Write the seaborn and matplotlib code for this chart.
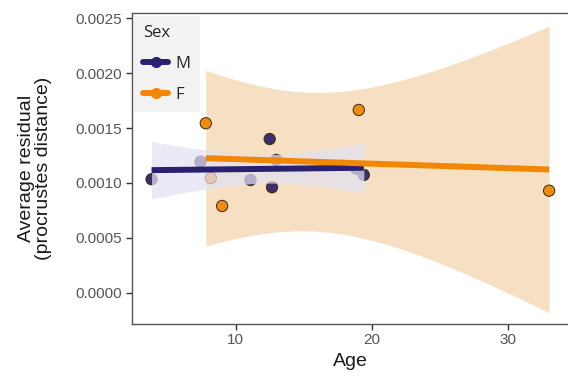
import numpy as np
import pandas as pd
import matplotlib
matplotlib.use("Agg")
import matplotlib.pyplot as plt
import seaborn as sns
from matplotlib.lines import Line2D

# values
male_age = [3.82, 7.41, 11.08, 12.49, 12.66, 12.98, 18.85, 19.40]
male_resid = [0.001034, 0.001194, 0.001027, 0.001400, 0.000961, 0.001210, 0.001130, 0.001073]
female_age = [7.80, 8.17, 9.00, 19.03, 33.00]
female_resid = [0.001543, 0.001045, 0.000791, 0.001664, 0.000930]
sex_levels = ["M", "F"]
x_ticks = [10, 20, 30]
y_ticks = [0.0, 0.0005, 0.0010, 0.0015, 0.0020, 0.0025]

line_colors = {"M": "#29216f", "F": "#f28705"}
point_colors = {"M": "#3e2d68", "F": "#ee8c12"}

# two-sided 95% t quantiles by residual df (no scipy here)
T975 = {3: 3.182, 6: 2.447}

df = pd.DataFrame({
    "Age": male_age + female_age,
    "Residual": male_resid + female_resid,
    "Sex": ["M"] * len(male_age) + ["F"] * len(female_age),
})


def lm_fit(x, y, n_grid=80):
    x = np.asarray(x)
    y = np.asarray(y)
    n = len(x)
    slope, intercept = np.polyfit(x, y, 1)
    resid = y - (intercept + slope * x)
    s = np.sqrt(np.sum(resid ** 2) / (n - 2))
    grid = np.linspace(x.min(), x.max(), n_grid)
    fit = intercept + slope * grid
    se = s * np.sqrt(1 / n + (grid - x.mean()) ** 2 / np.sum((x - x.mean()) ** 2))
    t = T975[n - 2]
    return grid, fit, fit - t * se, fit + t * se


sns.set_style("white")
plt.rcParams["font.family"] = ["Liberation Sans", "DejaVu Sans"]

fig = plt.figure(figsize=(5.68, 3.80), dpi=100)
ax = fig.add_axes([0.2318, 0.148, 0.77, 0.817])

gx, gy, lo, hi = lm_fit(female_age, female_resid)
ax.fill_between(gx, lo, hi, color="#f0c898", alpha=0.58, linewidth=0, zorder=1)

sns.scatterplot(data=df, x="Age", y="Residual", hue="Sex", hue_order=sex_levels,
                palette=point_colors, s=66, edgecolor="#3a2a10", linewidth=0.7,
                legend=False, ax=ax, zorder=2)

mx, my, mlo, mhi = lm_fit(male_age, male_resid)
ax.fill_between(mx, mlo, mhi, color="#e2e2f3", alpha=0.72, linewidth=0, zorder=3)
ax.plot(mx, my, color=line_colors["M"], lw=4.3, solid_capstyle="butt", zorder=5)
ax.plot(gx, gy, color=line_colors["F"], lw=4.3, solid_capstyle="butt", zorder=5)

ax.set_xlim(2.36, 34.46)
ax.set_ylim(-0.00028, 0.002543)
ax.set_xticks(x_ticks)
ax.set_yticks(y_ticks)
ax.set_yticklabels([f"{v:.4f}" for v in y_ticks])
ax.tick_params(axis="both", bottom=True, left=True, direction="out", length=4,
               width=1.0, color="#333333", labelsize=11, labelcolor="#555555", pad=3)
for sp in ax.spines.values():
    sp.set_color("#555555")
    sp.set_linewidth(1.0)

ax.set_xlabel("Age", fontsize=14, color="#1a1a1a", labelpad=4)
ax.set_ylabel("Average residual\n(procrustes distance)", fontsize=14, color="#1a1a1a",
              labelpad=17, linespacing=1.0)

handles = [Line2D([], [], color=line_colors[k], lw=4.3, marker="o", markersize=7,
                  markerfacecolor=line_colors[k], markeredgecolor=line_colors[k])
           for k in sex_levels]
leg = ax.legend(handles, sex_levels, title="Sex", loc="upper left",
                bbox_to_anchor=(0.0, 1.0), borderaxespad=0.15, frameon=True,
                fancybox=False, fontsize=12, title_fontsize=12, handlelength=1.5,
                handletextpad=0.45, labelspacing=0.9, borderpad=0.55)
leg.get_frame().set_facecolor("#efefef")
leg.get_frame().set_edgecolor("none")
leg.get_title().set_fontfamily(["Open Sans", "DejaVu Sans"])
for t in leg.get_texts():
    t.set_fontfamily(["Open Sans", "DejaVu Sans"])
leg._legend_box.align = "left"
leg.set_zorder(10)

fig.savefig("out.png", dpi=100)
